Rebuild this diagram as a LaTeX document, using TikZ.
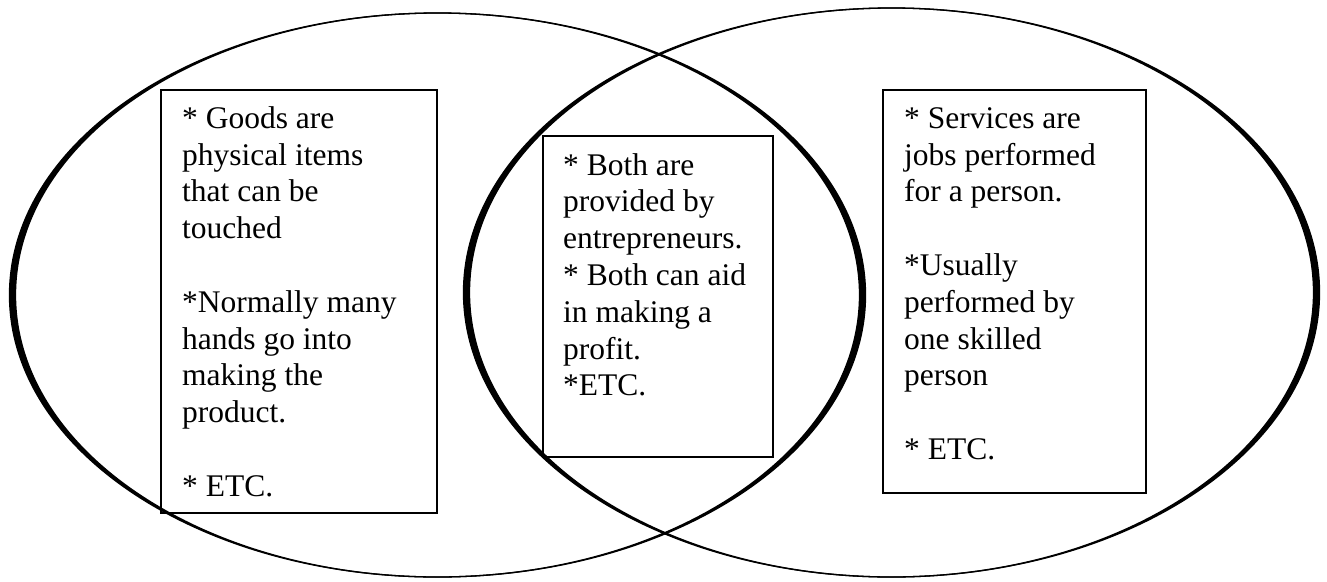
\documentclass[tikz,border=0pt]{standalone}
\usepackage{fontspec}
\setmainfont{Liberation Serif}
\tikzset{
  boxframe/.style={draw=black, line width=1.8pt, inner sep=0pt, anchor=north west},
  boxtext/.style={anchor=base west, inner sep=0pt, font={\fontsize{31.5pt}{36.8pt}\selectfont}},
  vennline/.style={line width=1.3pt},
}
\begin{document}
\begin{tikzpicture}[x=1pt,y=-1pt]
\useasboundingbox (0,0) rectangle (1327,581);
% circles
\coordinate (lc) at (437.5,295);
\coordinate (rc) at (891.5,292.5);
\fill[even odd rule] (lc) ellipse [x radius=428pt, y radius=282pt] (lc) ellipse [x radius=422pt, y radius=282pt];
\draw[vennline] (lc) ellipse [x radius=428pt, y radius=282pt];
\draw[vennline] (lc) ellipse [x radius=422pt, y radius=282pt];
\fill[even odd rule] (rc) ellipse [x radius=428pt, y radius=284.5pt] (rc) ellipse [x radius=422pt, y radius=284.5pt];
\draw[vennline] (rc) ellipse [x radius=428pt, y radius=284.5pt];
\draw[vennline] (rc) ellipse [x radius=422pt, y radius=284.5pt];
% boxes
\node[boxframe, minimum width=276pt, minimum height=423pt] (goodsbox) at (160,89) {};
\node[boxframe, minimum width=230pt, minimum height=321pt] (bothbox) at (542,135) {};
\node[boxframe, minimum width=263pt, minimum height=403pt] (servicesbox) at (882,89) {};
% texts
\node[boxtext] (goodstext) at (182,128.3) {\parbox[t]{260pt}{{*} Goods are\\physical items\\that can be\\touched\\[36.8pt]{*}Normally many\\hands go into\\making the\\product.\\[36.8pt]{*} ETC.}};
\node[boxtext] (bothtext) at (563,175) {\parbox[t]{220pt}{{*} Both are\\provided by\\entrepreneurs.\\{*} Both can aid\\in making a\\profit.\\{*}ETC.}};
\node[boxtext] (servicestext) at (904,128.3) {\parbox[t]{240pt}{{*} Services are\\jobs performed\\for a person.\\[36.8pt]{*}Usually\\performed by\\one skilled\\person\\[36.8pt]{*} ETC.}};
\end{tikzpicture}
\end{document}
